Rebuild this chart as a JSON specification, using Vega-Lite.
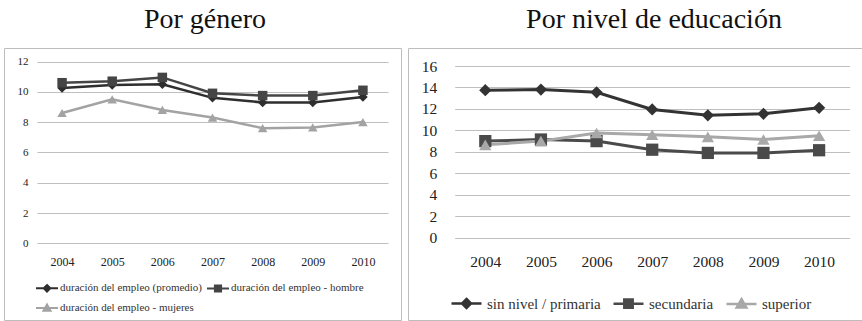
{
  "$schema": "https://vega.github.io/schema/vega-lite/v6.json",
  "padding": {"left": 3, "top": 5, "right": 0, "bottom": 0},
  "spacing": 5,
  "resolve": {"scale": {"color": "independent", "stroke": "independent", "shape": "independent"}, "legend": {"color": "independent", "stroke": "independent", "shape": "independent"}},
  "config": {
    "view": {"stroke": "#bdbdbd", "strokeWidth": 1, "fill": "white"},
    "font": "Liberation Serif",
    "title": {"font": "Liberation Serif", "fontSize": 28, "fontWeight": "normal", "color": "#111111", "anchor": "middle", "offset": 14},
    "axis": {"labelFont": "Liberation Serif", "labelColor": "#222222", "title": null, "ticks": false, "domain": false},
    "legend": {"labelFont": "Liberation Serif", "labelColor": "#333333"}
  },
  "datasets": {
    "genero": [
      {"year": "2004", "series": "duración del empleo (promedio)", "value": 10.25},
      {"year": "2005", "series": "duración del empleo (promedio)", "value": 10.45},
      {"year": "2006", "series": "duración del empleo (promedio)", "value": 10.5},
      {"year": "2007", "series": "duración del empleo (promedio)", "value": 9.6},
      {"year": "2008", "series": "duración del empleo (promedio)", "value": 9.3},
      {"year": "2009", "series": "duración del empleo (promedio)", "value": 9.3},
      {"year": "2010", "series": "duración del empleo (promedio)", "value": 9.65},
      {"year": "2004", "series": "duración del empleo - hombre", "value": 10.6},
      {"year": "2005", "series": "duración del empleo - hombre", "value": 10.7},
      {"year": "2006", "series": "duración del empleo - hombre", "value": 10.95},
      {"year": "2007", "series": "duración del empleo - hombre", "value": 9.9},
      {"year": "2008", "series": "duración del empleo - hombre", "value": 9.75},
      {"year": "2009", "series": "duración del empleo - hombre", "value": 9.75},
      {"year": "2010", "series": "duración del empleo - hombre", "value": 10.1},
      {"year": "2004", "series": "duración del empleo - mujeres", "value": 8.6},
      {"year": "2005", "series": "duración del empleo - mujeres", "value": 9.5},
      {"year": "2006", "series": "duración del empleo - mujeres", "value": 8.8},
      {"year": "2007", "series": "duración del empleo - mujeres", "value": 8.3},
      {"year": "2008", "series": "duración del empleo - mujeres", "value": 7.6},
      {"year": "2009", "series": "duración del empleo - mujeres", "value": 7.65},
      {"year": "2010", "series": "duración del empleo - mujeres", "value": 8.0}
    ],
    "educacion": [
      {"year": "2004", "series": "sin nivel / primaria", "value": 13.75},
      {"year": "2005", "series": "sin nivel / primaria", "value": 13.8},
      {"year": "2006", "series": "sin nivel / primaria", "value": 13.55},
      {"year": "2007", "series": "sin nivel / primaria", "value": 11.95},
      {"year": "2008", "series": "sin nivel / primaria", "value": 11.4},
      {"year": "2009", "series": "sin nivel / primaria", "value": 11.55},
      {"year": "2010", "series": "sin nivel / primaria", "value": 12.1},
      {"year": "2004", "series": "secundaria", "value": 9.0},
      {"year": "2005", "series": "secundaria", "value": 9.15},
      {"year": "2006", "series": "secundaria", "value": 9.0},
      {"year": "2007", "series": "secundaria", "value": 8.2},
      {"year": "2008", "series": "secundaria", "value": 7.9},
      {"year": "2009", "series": "secundaria", "value": 7.9},
      {"year": "2010", "series": "secundaria", "value": 8.15},
      {"year": "2004", "series": "superior", "value": 8.65},
      {"year": "2005", "series": "superior", "value": 9.0},
      {"year": "2006", "series": "superior", "value": 9.75},
      {"year": "2007", "series": "superior", "value": 9.6},
      {"year": "2008", "series": "superior", "value": 9.4},
      {"year": "2009", "series": "superior", "value": 9.15},
      {"year": "2010", "series": "superior", "value": 9.5}
    ]
  },
  "hconcat": [
    {
      "title": {"text": "Por género", "dx": 2.5},
      "width": 397,
      "height": 272,
      "data": {"name": "genero"},
      "encoding": {
        "x": {"field": "year", "type": "ordinal", "scale": {"type": "point", "range": [33, 384], "padding": 0.5},
          "axis": {"offset": -76.7, "labelPadding": 13, "labelAngle": 0, "grid": false, "labelFont": "Liberation Serif", "labelFontSize": 12}},
        "y": {"field": "value", "type": "quantitative", "scale": {"domain": [0, 12], "range": [195.3, 13.5], "nice": false},
          "axis": {"values": [0, 2, 4, 6, 8, 10, 12], "offset": -33, "labelPadding": 9, "grid": true, "gridColor": "#bfbfbf", "labelFont": "Liberation Serif", "labelFontSize": 11}},
        "color": {"field": "series", "type": "nominal",
          "scale": {"domain": ["duración del empleo (promedio)", "duración del empleo - hombre", "duración del empleo - mujeres"], "range": ["#2e2e2e", "#454545", "#a3a3a3"]},
          "legend": {"title": null, "orient": "none", "legendX": 31, "legendY": 228, "direction": "horizontal", "columns": 2, "symbolSize": 484, "symbolStrokeWidth": 2, "labelFont": "Liberation Serif", "labelFontSize": 11, "labelOffset": 1, "columnPadding": 0, "rowPadding": 0, "symbolOpacity": 1}}
      },
      "layer": [
        {"mark": {"type": "line", "strokeWidth": 2.5}},
        {"mark": {"type": "point", "filled": true, "size": 90, "opacity": 1},
          "encoding": {"shape": {"condition": [
            {"test": "datum.series === 'duración del empleo - hombre'", "value": "square"},
            {"test": "datum.series === 'duración del empleo - mujeres'", "value": "triangle-up"}], "value": "diamond"}}},
        {"mark": {"type": "point", "filled": true, "size": 90, "opacity": 0},
          "encoding": {
            "stroke": {"field": "series", "type": "nominal",
              "scale": {"domain": ["duración del empleo (promedio)", "duración del empleo - hombre", "duración del empleo - mujeres"], "range": ["#2e2e2e", "#454545", "#a3a3a3"]},
              "legend": {"title": null, "orient": "none", "legendX": 31, "legendY": 228, "direction": "horizontal", "columns": 2, "symbolSize": 484, "symbolStrokeWidth": 2, "labelFont": "Liberation Serif", "labelFontSize": 11, "labelOffset": 1, "columnPadding": 0, "rowPadding": 0, "symbolOpacity": 1}},
            "shape": {"field": "series", "type": "nominal",
              "scale": {"domain": ["duración del empleo (promedio)", "duración del empleo - hombre", "duración del empleo - mujeres"],
                "range": ["M-1,0H1M0,-0.3L0.3,0L0,0.3L-0.3,0Z", "M-1,0H1M-0.28,-0.28H0.28V0.28H-0.28Z", "M-1,0H1M0,-0.32L0.32,0.24H-0.32Z"]},
              "legend": {"title": null, "orient": "none", "legendX": 31, "legendY": 228, "direction": "horizontal", "columns": 2, "symbolSize": 484, "symbolStrokeWidth": 2, "labelFont": "Liberation Serif", "labelFontSize": 11, "labelOffset": 1, "columnPadding": 0, "rowPadding": 0, "symbolOpacity": 1}}
          }}
      ]
    },
    {
      "title": {"text": "Por nivel de educación", "dx": 17.5},
      "width": 457,
      "height": 272,
      "data": {"name": "educacion"},
      "encoding": {
        "x": {"field": "year", "type": "ordinal", "scale": {"type": "point", "range": [46.7, 441.7], "padding": 0.55},
          "axis": {"offset": -82.3, "labelPadding": 17, "labelAngle": 0, "grid": false, "labelFont": "Liberation Serif", "labelFontSize": 15.5}},
        "y": {"field": "value", "type": "quantitative", "scale": {"domain": [0, 16], "range": [189.7, 18], "nice": false},
          "axis": {"values": [0, 2, 4, 6, 8, 10, 12, 14, 16], "offset": -46.7, "labelPadding": 18, "grid": true, "gridColor": "#bfbfbf", "labelFont": "Liberation Serif", "labelFontSize": 15.5}},
        "color": {"field": "series", "type": "nominal",
          "scale": {"domain": ["sin nivel / primaria", "secundaria", "superior"], "range": ["#333333", "#4a4a4a", "#a8a8a8"]},
          "legend": {"title": null, "orient": "none", "legendX": 42, "legendY": 239, "direction": "horizontal", "symbolSize": 900, "symbolStrokeWidth": 2.5, "labelFont": "Liberation Serif", "labelFontSize": 15, "labelOffset": 4, "columnPadding": 7, "symbolOpacity": 1}}
      },
      "layer": [
        {"mark": {"type": "line", "strokeWidth": 3}},
        {"mark": {"type": "point", "filled": true, "size": 150, "opacity": 1},
          "encoding": {"shape": {"condition": [
            {"test": "datum.series === 'secundaria'", "value": "square"},
            {"test": "datum.series === 'superior'", "value": "triangle-up"}], "value": "diamond"}}},
        {"mark": {"type": "point", "filled": true, "size": 150, "opacity": 0},
          "encoding": {
            "stroke": {"field": "series", "type": "nominal",
              "scale": {"domain": ["sin nivel / primaria", "secundaria", "superior"], "range": ["#333333", "#4a4a4a", "#a8a8a8"]},
              "legend": {"title": null, "orient": "none", "legendX": 42, "legendY": 239, "direction": "horizontal", "symbolSize": 900, "symbolStrokeWidth": 2.5, "labelFont": "Liberation Serif", "labelFontSize": 15, "labelOffset": 4, "columnPadding": 7, "symbolOpacity": 1}},
            "shape": {"field": "series", "type": "nominal",
              "scale": {"domain": ["sin nivel / primaria", "secundaria", "superior"],
                "range": ["M-1,0H1M0,-0.3L0.3,0L0,0.3L-0.3,0Z", "M-1,0H1M-0.28,-0.28H0.28V0.28H-0.28Z", "M-1,0H1M0,-0.32L0.32,0.24H-0.32Z"]},
              "legend": {"title": null, "orient": "none", "legendX": 42, "legendY": 239, "direction": "horizontal", "symbolSize": 900, "symbolStrokeWidth": 2.5, "labelFont": "Liberation Serif", "labelFontSize": 15, "labelOffset": 4, "columnPadding": 7, "symbolOpacity": 1}}
          }}
      ]
    }
  ]
}
